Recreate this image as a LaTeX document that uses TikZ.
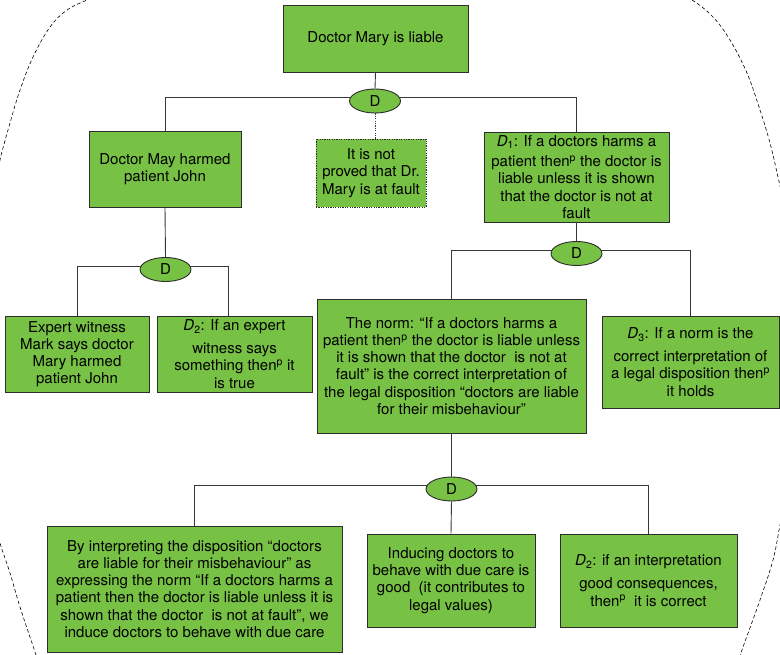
\documentclass[tikz,border=0pt]{standalone}
\usepackage{fontspec}
\setmainfont{TeX Gyre Heros}
\usetikzlibrary{shapes.geometric}
\definecolor{boxgreen}{RGB}{119,193,68}
\definecolor{boxline}{RGB}{45,45,45}
\definecolor{wirecol}{RGB}{55,55,55}
\newcommand{\Dsub}[1]{\textit{D}\textsubscript{#1}}
\newcommand{\thenp}{then\textsuperscript{p}}
\begin{document}
\begin{tikzpicture}[x=1pt,y=-1pt,
  claim/.style={draw=boxline, line width=0.9pt, fill=boxgreen, align=center,
    inner sep=2pt, font=\fontsize{15}{17.2}\selectfont},
  dnode/.style={ellipse, draw=boxline, line width=0.9pt, fill=boxgreen,
    minimum width=51pt, minimum height=24pt, inner sep=0pt,
    font=\fontsize{15}{17.2}\selectfont},
  wire/.style={draw=wirecol, line width=0.9pt},
  hull/.style={draw=black, line width=0.6pt, dash pattern=on 3.5pt off 2.5pt}
]
\useasboundingbox (0,0) rectangle (780,655);

% dashed outline running round the whole argument
\begin{scope}
  \clip (0,0) rectangle (780,655);
  \draw[hull] plot[smooth, tension=0.6] coordinates
    {(108,-9) (87,0) (67,10) (50,27) (33,57) (20,90) (10,123) (0,160) (-5,190)};
  \draw[hull] plot[smooth, tension=0.6] coordinates
    {(670,-9) (692,0) (713,17) (730,40) (747,73) (760,110) (770,143) (778,177) (783,200)};
  \draw[hull] plot[smooth, tension=0.6] coordinates
    {(-5,520) (0,543) (10,573) (20,607) (35,652) (38,662)};
  \draw[hull] plot[smooth, tension=0.6] coordinates
    {(784,505) (780,525) (773,560) (760,600) (742,650) (739,662)};
\end{scope}

% claims
\node[claim, minimum width=185pt, minimum height=67pt] (top) at (375.5,38.5)
  {Doctor Mary is liable};
\node[claim, minimum width=152pt, minimum height=76pt] (may) at (165,169)
  {Doctor May harmed\\patient John};
\node[claim, minimum width=110pt, minimum height=68pt, dash pattern=on 1.2pt off 1.2pt] (notproved) at (371,173)
  {It is not\\proved that Dr.\\Mary is at fault};
\node[claim, minimum width=185pt, minimum height=90pt] (rule1) at (576.5,177)
  {\Dsub{1}: If a doctors harms a\\[3pt]patient \thenp{} the doctor is\\liable unless it is shown\\that the doctor is not at\\fault};
\node[claim, minimum width=144pt, minimum height=76pt] (expert) at (77,354)
  {Expert witness\\Mark says doctor\\Mary harmed\\patient John};
\node[claim, minimum width=155pt, minimum height=76pt] (rule2) at (234.5,354)
  {\Dsub{2}: If an expert\\[6pt]witness says\\something \thenp{} it\\is true};
\node[claim, minimum width=269pt, minimum height=134pt] (norm) at (451.5,366)
  {The norm: “If a doctors harms a\\patient \thenp{} the doctor is liable unless\\it is shown that the doctor\ \ is not at\\fault” is the correct interpretation of\\the legal disposition “doctors are liable\\for their misbehaviour”};
\node[claim, minimum width=177pt, minimum height=92pt] (rule3) at (690.5,362)
  {\Dsub{3}: If a norm is the\\[6pt]correct interpretation of\\a legal disposition \thenp\\it holds};
\node[claim, minimum width=295pt, minimum height=126pt] (interp) at (194.5,589)
  {By interpreting the disposition “doctors\\are liable for their misbehaviour” as\\expressing the norm “If a doctors harms a\\patient then the doctor is liable unless it is\\shown that the doctor\ \ is not at fault”, we\\induce doctors to behave with due care};
\node[claim, minimum width=168pt, minimum height=93pt] (induce) at (451,580.5)
  {Inducing doctors to\\behave with due care is\\good\ \ (it contributes to\\legal values)};
\node[claim, minimum width=177pt, minimum height=93pt] (rule2b) at (648.5,580.5)
  {\Dsub{2}: if an interpretation\\[6pt]good consequences,\\\thenp\ \ it is correct};

% D junctions
\node[dnode] (da) at (375,101) {D};
\node[dnode] (db) at (165.5,269.5) {D};
\node[dnode] (dc) at (576.5,253.5) {D};
\node[dnode] (dd) at (451.5,489) {D};

% connectors
\draw[wire] (top.south) -- (da.north);
\draw[wire] (da.172) -| (may.north);
\draw[wire] (da.8) -| (rule1.north);
\draw[wire, dash pattern=on 1.2pt off 1.2pt] (da.south) -- (da.south |- notproved.north);

\draw[wire] (may.south) -- (db.north);
\draw[wire] (db.172) -| (expert.north);
\draw[wire] (db.8) -| ([xshift=-6pt]rule2.north);

\draw[wire] (rule1.south) -- (dc.north);
\draw[wire] (dc.172) -| (norm.north);
\draw[wire] (dc.8) -| (rule3.north);

\draw[wire] (norm.south) -- (dd.north);
\draw[wire] (dd.172) -| (interp.north);
\draw[wire] (dd.south) -- (induce.north);
\draw[wire] (dd.8) -| (rule2b.north);
\end{tikzpicture}
\end{document}
